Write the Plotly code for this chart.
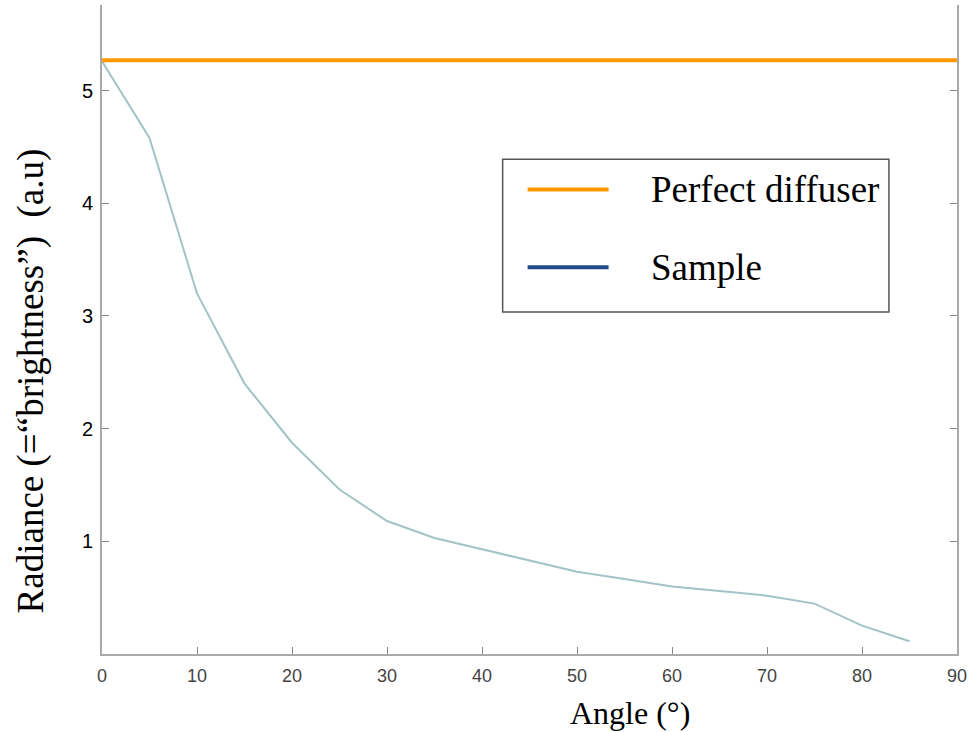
import plotly.graph_objects as go

angle = [0, 5, 10, 15, 20, 25, 30, 35, 40, 45, 50, 55, 60, 65, 70, 75, 80, 85]
sample = [5.26, 4.58, 3.20, 2.40, 1.875, 1.46, 1.18, 1.03, 0.93, 0.83, 0.73, 0.665, 0.60, 0.56, 0.518, 0.447, 0.252, 0.113]
diffuser_x = [0, 90]
diffuser_y = [5.27, 5.27]
x_ticks = [0, 10, 20, 30, 40, 50, 60, 70, 80, 90]
y_ticks = [1, 2, 3, 4, 5]
legend_labels = ["Perfect diffuser", "Sample"]
legend_colors = ["#FF9900", "#1F4A8C"]

fig = go.Figure()
fig.add_trace(go.Scatter(x=angle, y=sample, mode="lines",
                         line=dict(color="#a3c3c6", width=2), showlegend=False))
fig.add_trace(go.Scatter(x=diffuser_x, y=diffuser_y, mode="lines",
                         line=dict(color="#FF9900", width=4), showlegend=False))

serif = "Liberation Serif, Times New Roman, serif"

# manual legend box
fig.add_shape(type="rect", xref="paper", yref="paper", x0=0.4686, x1=0.9204, y0=0.5268, y1=0.7624,
              line=dict(color="#555555", width=1.5), fillcolor="white")
leg_y = [0.7156, 0.5961]
for lab, col, yy in zip(legend_labels, legend_colors, leg_y):
    fig.add_shape(type="line", xref="paper", yref="paper", x0=0.4978, x1=0.5925, y0=yy, y1=yy,
                  line=dict(color=col, width=4))
    fig.add_annotation(xref="paper", yref="paper", x=0.6395, y=yy, text=lab, showarrow=False,
                       xanchor="left", yanchor="middle", font=dict(family=serif, size=37, color="black"))

fig.add_annotation(xref="paper", yref="paper", x=-0.0835, y=0.421, textangle=-90,
                   text="Radiance (=\u201cbrightness\u201d)  (a.u)", showarrow=False,
                   xanchor="center", yanchor="middle", font=dict(family=serif, size=37, color="black"))
fig.add_annotation(xref="paper", yref="paper", x=0.6175, y=-0.0902,
                   text="Angle (\u00b0)", showarrow=False,
                   xanchor="center", yanchor="middle", font=dict(family=serif, size=32, color="black"))

fig.update_layout(
    width=978, height=732,
    margin=dict(l=102, r=21, t=5, b=78),
    paper_bgcolor="white", plot_bgcolor="white",
    showlegend=False,
    xaxis=dict(range=[0, 90], tickvals=x_ticks, ticks="inside", ticklen=7, tickcolor="#888888",
               showline=True, linecolor="#aaaaaa", linewidth=2, mirror=False, showgrid=False,
               zeroline=False, ticklabelstandoff=4,
               tickfont=dict(family="Liberation Sans, Arial", size=18, color="#444444")),
    yaxis=dict(range=[0, 5.76], tickvals=y_ticks, ticks="inside", ticklen=7, tickcolor="#888888",
               showline=True, linecolor="#aaaaaa", linewidth=2, mirror="ticks", showgrid=False,
               zeroline=False, ticklabelstandoff=3,
               tickfont=dict(family="Liberation Sans, Arial", size=20, color="black")),
)

fig.write_html("out.html", config={"displayModeBar": False},
               post_script="document.body.style.margin='0';")
